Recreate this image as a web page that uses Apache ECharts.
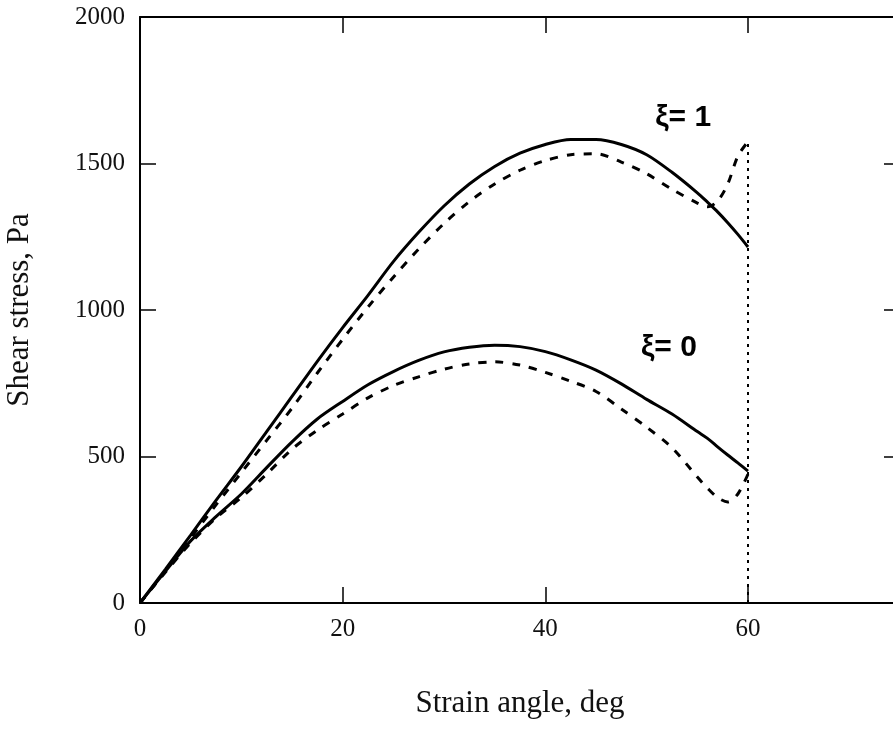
<!DOCTYPE html>
<html>
<head>
<meta charset="utf-8">
<script src="https://cdn.jsdelivr.net/npm/echarts@6/dist/echarts.min.js"></script>
<style>
html,body{margin:0;padding:0;background:#fff;}
#main{width:893px;height:731px;}
</style>
</head>
<body>
<div id="main"></div>
<script>
// strain angle, deg
var angles = [0,2.5,5,7.5,10,12.5,15,17.5,20,22.5,25,27.5,30,32.5,35,37.5,40,42.5,45,47.5,50,52.5,55,56,57,58,59,60];
// xi = 1
var solid1  = [0,115,232,350,465,585,705,825,940,1050,1165,1265,1355,1430,1490,1535,1565,1582,1582,1565,1530,1470,1400,1368,1335,1298,1258,1215];
var dashed1 = [0,110,222,335,445,555,665,785,900,1010,1112,1208,1295,1370,1430,1477,1510,1530,1533,1505,1465,1412,1365,1352,1372,1430,1525,1575];
// xi = 0
var solid0  = [0,108,212,295,372,462,550,628,688,745,790,828,857,873,880,875,858,830,795,748,695,645,585,562,533,505,478,450];
var dashed0 = [0,105,205,290,360,440,525,590,645,700,742,772,798,816,823,812,787,757,722,662,600,530,430,392,360,345,372,440];
// vertical marker at 60 deg
var markX = [60,60];
var markY = [0,1575];

function pairs(xs, ys){
	var out = [];
	for(var i=0;i<xs.length;i++){
		out.push([xs[i], ys[i]]);
	}
	return out;
}

var serif = 'Liberation Serif';
var axisLine = {onZero:false, lineStyle:{color:'#000', width:2}};
var axisTick = {inside:true, length:16, lineStyle:{color:'#000', width:1.5}};
var plain = function(v){ return String(v); };

var myChart = echarts.init(document.getElementById('main'));
var option = {
	animation: false,
	backgroundColor: '#fff',
	// plot box runs past the right edge of the picture
	grid: {left:140, top:17, width:760, height:586, containLabel:false, outerBoundsMode:'none'},
	xAxis: [{
		type:'value', min:0, max:75, interval:20, position:'bottom',
		axisLine:axisLine, axisTick:axisTick, splitLine:{show:false},
		axisLabel:{showMaxLabel:false, margin:14, color:'#111', fontFamily:serif, fontSize:25, formatter:plain},
		name:'Strain angle, deg', nameLocation:'middle', nameGap:85,
		nameTextStyle:{color:'#111', fontFamily:serif, fontSize:31}
	},{
		type:'value', min:0, max:75, interval:20, position:'top',
		axisLine:axisLine, axisTick:axisTick, splitLine:{show:false},
		axisLabel:{show:false}
	}],
	yAxis: [{
		type:'value', min:0, max:2000, interval:500, position:'left',
		axisLine:axisLine, axisTick:axisTick, splitLine:{show:false},
		axisLabel:{margin:15, color:'#111', fontFamily:serif, fontSize:25, formatter:plain},
		name:'Shear stress, Pa', nameLocation:'middle', nameGap:105,
		nameTextStyle:{color:'#111', fontFamily:serif, fontSize:31}
	},{
		type:'value', min:0, max:2000, interval:500, position:'right',
		axisLine:axisLine, axisTick:axisTick, splitLine:{show:false},
		axisLabel:{show:false}
	}],
	series: [{
		name:'solid1', type:'line', data:pairs(angles, solid1), smooth:0.3,
		showSymbol:false, lineStyle:{color:'#000', width:3},
		markPoint:{
			symbol:'circle', symbolSize:0,
			label:{show:true, formatter:'ξ= 1', color:'#000', fontFamily:'Liberation Sans', fontWeight:'bold', fontSize:30},
			data:[{coord:[53.6, 1655]}]
		}
	},{
		name:'dashed1', type:'line', data:pairs(angles, dashed1), smooth:0.3,
		showSymbol:false, lineStyle:{color:'#000', width:3, type:[8,9]}
	},{
		name:'solid0', type:'line', data:pairs(angles, solid0), smooth:0.3,
		showSymbol:false, lineStyle:{color:'#000', width:3},
		markPoint:{
			symbol:'circle', symbolSize:0,
			label:{show:true, formatter:'ξ= 0', color:'#000', fontFamily:'Liberation Sans', fontWeight:'bold', fontSize:30},
			data:[{coord:[52.2, 872]}]
		}
	},{
		name:'dashed0', type:'line', data:pairs(angles, dashed0), smooth:0.3,
		showSymbol:false, lineStyle:{color:'#000', width:3, type:[8,9]}
	},{
		name:'mark60', type:'line', data:pairs(markX, markY),
		showSymbol:false, lineStyle:{color:'#000', width:2, type:[3,5]}
	}]
};
myChart.setOption(option);
</script>
</body>
</html>
